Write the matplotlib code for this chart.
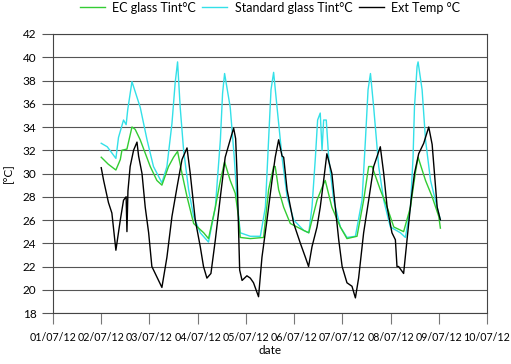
import matplotlib
matplotlib.use("Agg")
import matplotlib.pyplot as plt
import pandas as pd

start = pd.Timestamp("2012-07-02 00:00")

ext_hours = [0, 1.2, 3.6, 5.3, 7.3, 9.5, 11.1, 12.4, 12.8, 13.3, 14.4, 16.1, 17.8, 18.6, 20.3, 21.9, 23.6,
             25.2, 27.7, 30.2, 32.7, 35.2, 37.7, 40.2, 42.7, 44.3, 46.8, 49.3, 50.9, 52.6, 54.6, 56.8,
             59.3, 61.7, 64.2, 65.9, 66.9, 67.6, 68.9, 70.1, 72.5, 74.2, 75.8, 78.3, 80.0, 82.5, 85.0,
             86.6, 88.3, 90.0, 90.8, 92.5, 95.8, 99.1, 101.6, 103.2, 104.9, 107.4, 109.0, 110.7, 112.3,
             114.8, 116.5, 118.2, 119.9, 122.3, 124.8, 126.5, 128.1, 130.6, 133.1, 135.6, 138.9, 140.6,
             142.3, 144.7, 146.4, 147.2, 148.0, 150.5, 152.2, 154.2, 155.9, 158.0, 160.5, 163.0, 164.7,
             167.2, 168.8]
ext_temp = [30.5, 29.4, 27.5, 26.6, 23.4, 26.0, 27.7, 28.0, 25.0, 28.5, 30.6, 32.0, 32.7, 31.5, 30.0, 27.1, 24.9,
            22.0, 21.1, 20.2, 22.8, 26.3, 28.8, 31.2, 32.2, 30.0, 26.0, 23.7, 22.0, 21.0, 21.4, 24.3,
            28.0, 31.4, 32.9, 33.9, 33.0, 30.0, 21.7, 20.8, 21.2, 21.0, 20.6, 19.4, 22.8, 26.0, 29.4,
            31.4, 32.9, 31.5, 31.4, 28.6, 25.7, 24.0, 22.8, 22.0, 23.7, 25.4, 27.1, 29.4, 31.7,
            30.0, 27.1, 24.3, 22.0, 20.6, 20.3, 19.3, 21.0, 24.9, 27.7, 30.6, 32.3, 30.0,
            27.1, 24.9, 24.3, 22.0, 22.0, 21.4, 24.3, 27.7, 30.0, 31.7, 32.6, 34.0, 32.5,
            27.1, 26.0]

std_hours = [0, 3, 7.3, 8.6, 11.1, 12.4, 13.2, 15.3, 19.4, 22.8, 26.0, 30.2, 32.7, 35.2, 36.8, 38.0, 39.3,
             41.0, 43.5, 46.0, 49.3, 53.4, 56.8, 59.3, 60.4, 61.4, 64.2, 66.2, 67.6, 69.2, 74.2, 79.2,
             81.7, 83.3, 84.5, 85.8, 87.5, 90.0, 92.5, 95.8, 100.8, 103.3, 104.9, 106.6, 107.7, 109.0,
             109.9, 110.7, 112.0, 113.2, 115.7, 119.0, 122.3, 126.5, 129.8, 131.5, 132.8, 134.0, 135.6,
             138.1, 140.6, 143.9, 148.9, 151.4, 153.9, 155.2, 155.9, 157.2, 157.7, 159.7, 161.4, 163.9,
             166.3, 168.8]
std_temp = [32.6, 32.3, 31.3, 33.1, 34.6, 34.2, 35.5, 37.9, 35.7, 32.9, 30.6, 29.2, 30.6, 34.3, 37.8, 39.6, 35.7,
            32.0, 28.6, 26.3, 24.9, 24.1, 27.1, 32.9, 36.9, 38.6, 35.7, 31.4, 27.7, 24.9, 24.6, 24.6,
            27.1, 32.9, 37.2, 38.7, 35.7, 31.4, 28.0, 26.0, 25.1, 24.9, 27.1, 31.4, 34.6, 35.2,
            32.0, 34.6, 34.6, 31.4, 27.7, 25.4, 24.5, 24.6, 27.7, 32.9, 37.2, 38.6, 35.7,
            30.6, 27.7, 25.4, 24.9, 24.5, 27.1, 31.4, 35.7, 39.2, 39.6, 37.2, 32.9, 29.4,
            27.7, 26.0]

ec_hours = [0, 3.5, 7.3, 9.5, 10.3, 12.8, 15.3, 16.9, 19.4, 24.4, 27.7, 30.2, 33.5, 36.0, 38.0, 40.2, 42.7,
            46.0, 51.0, 53.4, 56.8, 59.3, 61.4, 64.2, 66.7, 68.3, 69.2, 74.2, 80.8, 83.3, 85.8, 86.6,
            88.3, 90.8, 94.1, 100.8, 103.3, 107.4, 109.9, 111.5, 114.8, 119.0, 122.3, 127.3, 130.6,
            133.1, 134.8, 138.9, 142.3, 145.6, 150.5, 153.9, 156.3, 157.7, 161.4, 164.7, 168.0, 168.8]
ec_temp = [31.4, 30.8, 30.3, 31.2, 32.0, 32.1, 34.0, 33.8, 32.9, 30.6, 29.4, 29.0, 30.6, 31.4, 31.9, 30.0, 28.0,
           25.7, 24.9, 24.4, 27.1, 29.4, 31.0, 29.4, 28.3, 26.3, 24.5, 24.4, 24.5, 28.6, 30.6, 30.6,
           28.6, 27.1, 25.7, 25.1, 24.9, 27.7, 28.8, 29.4, 27.1, 25.4, 24.4, 24.6, 27.7,
           30.6, 30.6, 28.6, 27.1, 25.4, 25.0, 27.1, 30.0, 31.4, 29.4, 28.0, 26.3, 25.3]

tick_labels = ["01/07/12", "02/07/12", "03/07/12", "04/07/12", "05/07/12",
               "06/07/12", "07/07/12", "08/07/12", "09/07/12", "10/07/12"]
y_ticks = list(range(18, 43, 2))

def to_time(hours):
    return [start + pd.Timedelta(hours=h) for h in hours]

plt.rcParams['font.family'] = ['Lato', 'DejaVu Sans']
fig = plt.figure(figsize=(5.11, 3.64), dpi=100)
ax = fig.add_axes([53/511, 1-313/364, (487-53)/511, (313-34)/364])

ax.plot(to_time(ec_hours), ec_temp, color="#33cc33", lw=1.0, label="EC glass Tint°C", zorder=3)
ax.plot(to_time(std_hours), std_temp, color="#33e0e8", lw=1.0, label="Standard glass Tint°C", zorder=2)
ax.plot(to_time(ext_hours), ext_temp, color="black", lw=1.0, label="Ext Temp °C", zorder=4)

ticks = [pd.Timestamp(f"2012-07-{d:02d}") for d in range(1, 11)]
ax.set_xlim(ticks[0], ticks[-1])
ax.set_xticks(ticks)
ax.set_xticklabels(tick_labels, fontsize=7.7)
ax.set_ylim(18, 42)
ax.set_yticks(y_ticks)
ax.set_yticklabels([str(v) for v in y_ticks], fontsize=8.5)
ax.yaxis.grid(True, color="#555555", lw=0.8)
ax.set_axisbelow(True)
ax.tick_params(axis='x', direction='out', length=8, color="#777777", width=0.8, pad=6)
ax.tick_params(axis='y', direction='out', length=8, color="#555555", width=0.8, pad=4)
for s in ax.spines.values():
    s.set_color("#444444")
    s.set_linewidth(0.8)

ax.set_xlabel("date", fontsize=8.5, labelpad=1)
ax.set_ylabel("[°C]", fontsize=8.5, labelpad=6)

leg = ax.legend(loc="lower center", bbox_to_anchor=(0.5, 1.055), ncol=3, frameon=False,
                fontsize=9, handlelength=2.0, columnspacing=0.5, handletextpad=0.6, borderaxespad=0)

fig.savefig("out.png", dpi=100)
